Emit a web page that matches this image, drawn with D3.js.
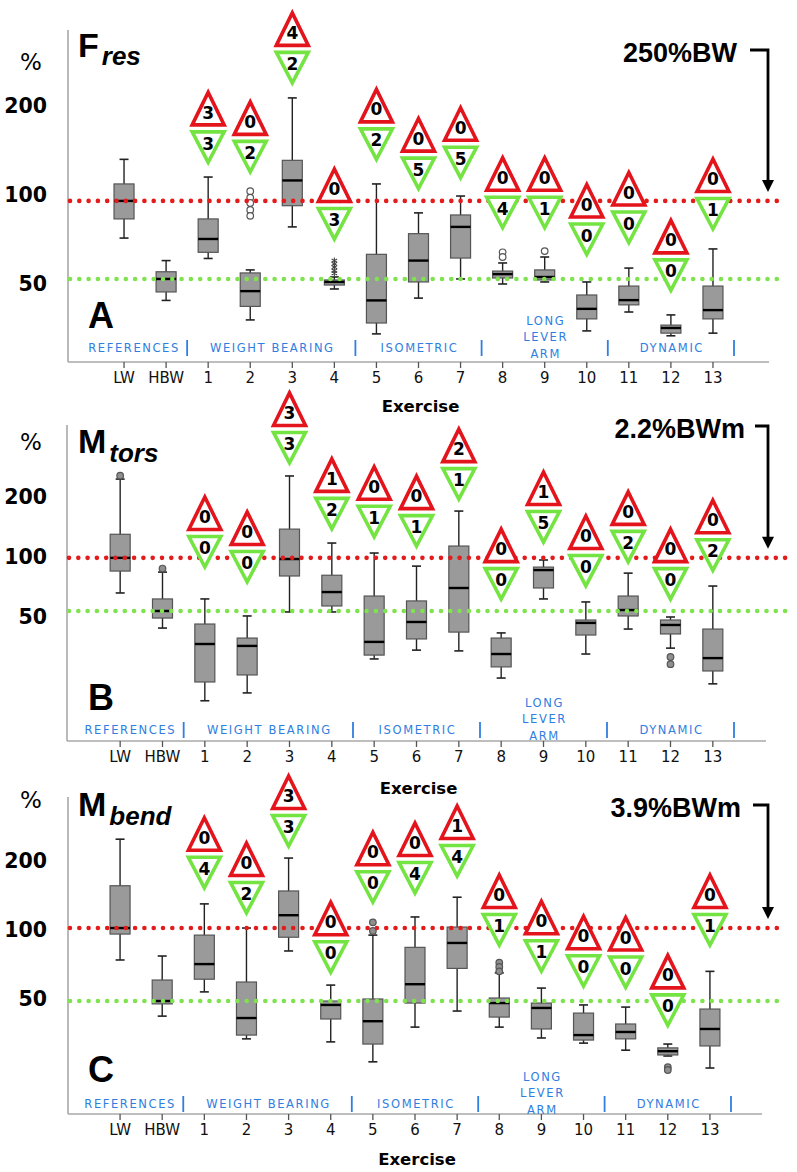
<!DOCTYPE html>
<html><head><meta charset="utf-8">
<script src="https://cdn.jsdelivr.net/npm/d3@7"></script>
<style>body{margin:0;background:#fff}svg{display:block}</style>
</head><body>
<svg id="chart" width="797" height="1172"></svg>
<script>
// ---------- data ----------
const categories = ["LW","HBW","1","2","3","4","5","6","7","8","9","10","11","12","13"];
const exercises = categories.slice(2);
const groupLines = [["REFERENCES"],["WEIGHT BEARING"],["ISOMETRIC"],["LONG","LEVER","ARM"],["DYNAMIC"]];
const groupFirst = ["LW","1","5","8","11"];
const groupLast  = ["HBW","4","7","10","13"];
const yTickValues = [50,100,200];

// Panel A: F res
const fresLow  = [71.5,44,61,37.8,78,48.1,33.9,44.8,52,50,50.8,34.7,40.2,33.4,34.1];
const fresQ1   = [83,47,64,42,92,49.6,36.9,50.8,61.2,52.4,51.6,38.1,42.5,34.1,38.1];
const fresMed  = [95.5,52,71,47.3,112,50.8,44,60,78,54,52.8,41.2,44.1,35.5,40.8];
const fresQ3   = [109,55,83,54.5,131,51.6,63,74,85.6,55.3,55.8,45.9,49.2,36.3,49.2];
const fresHigh = [132,60,115,55.8,213,52.8,109,87,99.2,58.9,61.7,50.8,56.6,39.3,65.7];
const fresOutliers = [["2",103],["2",98],["2",94],["2",89],["2",85],["8",64],["8",61.7],["9",64.6]];
const fresExtremes = [["4",60],["4",58.5],["4",57],["4",55.5],["4",54.3]];
const fresMarkerAt = [168,156,312,92.5,172,137,149,101,101,82,90,62,100];
const fresRed   = [3,0,4,0,0,0,0,0,0,0,0,0,0];
const fresGreen = [3,2,2,3,2,5,5,4,1,0,0,0,1];

// Panel B: M tors
const torsLow  = [66,44,19,20.8,53,53,30.8,34.1,33.8,24.7,61.6,32.6,43.5,34.9,23.1];
const torsQ1   = [85,49.4,23.6,25.6,80.3,56.8,32.2,38.8,42,28.1,69.9,40.6,50.6,41.1,26.8];
const torsMed  = [99,53.6,36.6,35.8,97.7,66.7,37.5,47.2,69.9,32.6,86,46.7,54.2,45.6,31.1];
const torsQ3   = [130,61.6,46.1,39.2,138,81,63.7,60.2,113.5,39.2,89,48.3,63.7,48.3,43.5];
const torsHigh = [246,84,61.6,50.6,255,117.5,104.7,90,170,41.6,96.6,59.5,83,50,71.5];
const torsOutliers = [["LW",256],["HBW",87.5],["12",31.5],["12",29]];
const torsExtremes = [];
const torsMarkerAt = [132,111,439,205,187,168,289,91,176,106,140,91,127];
const torsRed   = [0,0,3,1,0,0,2,0,1,0,0,0,0];
const torsGreen = [0,0,3,2,1,1,1,0,5,0,2,0,2];

// Panel C: M bend
const bendLow  = [74,42.1,53.7,33.5,81,32.5,26.6,37.7,44.3,37.7,33.8,32.1,29.9,28.2,25];
const bendQ1   = [96,47.6,61,34.8,93,40.9,31.8,48,68,41.7,37,33.1,33.5,28.5,31.2];
const bendMed  = [102,49,71,41.3,116,47.1,40,58,87.8,48,45.7,34.8,35.9,29.6,37];
const bendQ3   = [156,60.5,95,59.3,148,49,50,84,103,50.5,48,43.4,38.9,30.6,45.2];
const bendHigh = [249,77,130,102,206,57.5,95,114,139,65,55.8,47.1,46.1,31.8,66];
const bendOutliers = [["5",108],["5",99],["8",72],["8",69],["8",66],["12",25.2],["12",24.5]];
const bendExtremes = [];
const bendMarkerAt = [215,167,327,92,186,204,242,121,93,80,79,54,121];
const bendRed   = [0,0,3,0,0,0,1,0,0,0,0,0,0];
const bendGreen = [4,2,3,0,0,4,4,1,1,0,0,0,1];

// ---------- layout ----------
const panels = [
 {low:fresLow,q1:fresQ1,med:fresMed,q3:fresQ3,high:fresHigh,out:fresOutliers,ext:fresExtremes,outFill:"#fff",
  mk:fresMarkerAt,red:fresRed,green:fresGreen,main:"F",sub:"res",letter:"A",ann:"250%BW",
  top:30,bottom:362,axisX:68,axisEnd:769,xRange:[103,734],y100:195,y200:106,pctY:62,mainBase:57,subBase:65,
  letterBase:328,tickY:378,exY:406,groupY:347,annX:737,annY:52,arrowStart:750},
 {low:torsLow,q1:torsQ1,med:torsMed,q3:torsQ3,high:torsHigh,out:torsOutliers,ext:torsExtremes,outFill:"#8f8f8f",
  mk:torsMarkerAt,red:torsRed,green:torsGreen,main:"M",sub:"tors",letter:"B",ann:"2.2%BWm",
  top:425,bottom:741,axisX:67,axisEnd:766,xRange:[99,734],y100:557,y200:497,pctY:442,mainBase:453,subBase:462,
  letterBase:710,tickY:757,exY:788,groupY:729,annX:745,annY:428,arrowStart:755},
 {low:bendLow,q1:bendQ1,med:bendMed,q3:bendQ3,high:bendHigh,out:bendOutliers,ext:bendExtremes,outFill:"#8f8f8f",
  mk:bendMarkerAt,red:bendRed,green:bendGreen,main:"M",sub:"bend",letter:"C",ann:"3.9%BWm",
  top:797,bottom:1114,axisX:68,axisEnd:762,xRange:[99,731],y100:930,y200:861,pctY:800,mainBase:816,subBase:825,
  letterBase:1082,tickY:1130,exY:1159,groupY:1103,annX:741,annY:807,arrowStart:753}
];

const RED="#e3141c", GREEN="#74e443", DOTRED="#e31b1b", DOTGREEN="#7fe24f", BLUE="#2f7ee0";
const svg = d3.select("#chart");
const SANS = "DejaVu Sans, Verdana, sans-serif";
const COND = "DejaVu Sans Condensed, DejaVu Sans, sans-serif";
const ARIAL = "Liberation Sans, Arial, sans-serif";

panels.forEach(p => {
  const g = svg.append("g");
  const x = d3.scaleBand().domain(categories).range(p.xRange).paddingInner(0).paddingOuter(0);
  const cx = c => x(c) + x.bandwidth()/2;
  const y = d3.scaleLog().base(2).domain([100,200]).range([p.y100,p.y200]);

  // axes lines
  g.append("line").attr("x1",p.axisX).attr("x2",p.axisX).attr("y1",p.top).attr("y2",p.bottom)
    .attr("stroke","#a8a8a8").attr("stroke-width",1.6);
  g.append("line").attr("x1",p.axisX).attr("x2",p.axisEnd).attr("y1",p.bottom).attr("y2",p.bottom)
    .attr("stroke","#a8a8a8").attr("stroke-width",1.6);

  // bottom axis ticks + labels
  const xa = g.append("g").attr("transform",`translate(0,${p.bottom})`)
    .call(d3.axisBottom(x).tickSize(6).tickPadding(4));
  xa.select(".domain").remove();
  xa.selectAll(".tick line").attr("stroke","#555").attr("stroke-width",1.3);
  xa.selectAll(".tick text").attr("font-family",SANS).attr("font-size",15).attr("fill","#111")
    .attr("y",p.tickY-p.bottom).attr("dy","0.36em");

  // y axis labels
  const ya = g.append("g").attr("transform",`translate(${p.axisX},0)`)
    .call(d3.axisLeft(y).tickValues(yTickValues).tickFormat(d3.format("d")).tickSize(0).tickPadding(p.axisX-47));
  ya.select(".domain").remove();
  ya.selectAll(".tick text").attr("font-family",SANS).attr("font-weight","bold").attr("font-size",20.5).attr("fill","#000");

  // % label
  g.append("text").attr("x",31).attr("y",p.pctY).attr("dy","0.36em").attr("text-anchor","middle")
    .attr("font-family",SANS).attr("font-size",23).text("%");

  // Title
  const mt = g.append("text").attr("x",78).attr("y",p.mainBase).attr("font-family",ARIAL)
    .attr("font-weight","bold").attr("font-size",34).text(p.main);
  const mw = mt.node().getComputedTextLength();
  g.append("text").attr("x",78+mw+3).attr("y",p.subBase).attr("font-family",ARIAL)
    .attr("font-weight","bold").attr("font-style","italic").attr("font-size",26).text(p.sub);

  // panel letter
  g.append("text").attr("x",88).attr("y",p.letterBase).attr("font-family",ARIAL)
    .attr("font-weight","bold").attr("font-size",36).text(p.letter);

  // group labels & separators
  groupLines.forEach((lines,gi) => {
    const x0 = x(groupFirst[gi]), x1 = x(groupLast[gi]) + x.bandwidth();
    let mx = (x0+x1)/2; if (gi===0) mx -= 12;
    const n = lines.length;
    lines.forEach((t,li) => {
      g.append("text").attr("x",mx+1).attr("y",p.groupY + 6*(n>1?1:0) - 16.5*(n-1-li))
        .attr("dy","0.36em").attr("text-anchor","middle").attr("font-family",COND)
        .attr("font-size",12.8).attr("letter-spacing",1.6).attr("fill",BLUE).text(t);
    });
    g.append("line").attr("x1",x1).attr("x2",x1).attr("y1",p.groupY-7).attr("y2",p.groupY+9)
      .attr("stroke",BLUE).attr("stroke-width",1.8);
  });

  // boxes
  categories.forEach((c,i) => {
    const X = cx(c), bw = 20, cw = 9;
    g.append("line").attr("x1",X).attr("x2",X).attr("y1",y(p.high[i])).attr("y2",y(p.low[i]))
      .attr("stroke","#222").attr("stroke-width",1.4);
    [p.high[i],p.low[i]].forEach(v => g.append("line").attr("x1",X-cw/2).attr("x2",X+cw/2)
      .attr("y1",y(v)).attr("y2",y(v)).attr("stroke","#222").attr("stroke-width",1.6));
    g.append("rect").attr("x",X-bw/2).attr("width",bw).attr("y",y(p.q3[i]))
      .attr("height",Math.max(1,y(p.q1[i])-y(p.q3[i]))).attr("fill","#9a9a9a")
      .attr("stroke","#555").attr("stroke-width",1.2);
    g.append("line").attr("x1",X-bw/2).attr("x2",X+bw/2).attr("y1",y(p.med[i])).attr("y2",y(p.med[i]))
      .attr("stroke","#000").attr("stroke-width",2.4);
  });

  // outliers
  p.out.forEach(([c,v]) => g.append("circle").attr("cx",cx(c)).attr("cy",y(v)).attr("r",3.3)
    .attr("fill",p.outFill).attr("stroke","#555").attr("stroke-width",1.2));
  const starSym = d3.symbol().type(d3.symbolAsterisk || d3.symbolCross).size(28);
  p.ext.forEach(([c,v]) => g.append("path").attr("d",starSym())
    .attr("transform",`translate(${cx(c)},${y(v)})`).attr("fill","none").attr("stroke","#444").attr("stroke-width",1.1));

  // reference dotted lines (LW and HBW medians)
  [[p.med[0],DOTRED],[p.med[1],DOTGREEN]].forEach(([v,col]) => {
    g.append("line").attr("x1",p.axisX+2).attr("x2",786).attr("y1",y(v)).attr("y2",y(v))
      .attr("stroke",col).attr("stroke-width",4.6).attr("stroke-linecap","round")
      .attr("stroke-dasharray","0 9.3");
  });

  // markers
  exercises.forEach((c,i) => {
    const X = cx(c), J = y(p.mk[i]), hw = 16;
    g.append("path").attr("d",`M${X-hw},${J-3.5}L${X},${J-36}L${X+hw},${J-3.5}Z`)
      .attr("fill","#fff").attr("stroke",RED).attr("stroke-width",3.6).attr("stroke-linejoin","miter");
    g.append("path").attr("d",`M${X-hw},${J+3.5}L${X+hw},${J+3.5}L${X},${J+34}Z`)
      .attr("fill","#fff").attr("stroke",GREEN).attr("stroke-width",3.6).attr("stroke-linejoin","miter");
    g.append("text").attr("x",X).attr("y",J-16).attr("dy","0.36em").attr("text-anchor","middle")
      .attr("font-family",SANS).attr("font-weight","bold").attr("font-size",17).text(p.red[i]);
    g.append("text").attr("x",X).attr("y",J+15).attr("dy","0.36em").attr("text-anchor","middle")
      .attr("font-family",SANS).attr("font-weight","bold").attr("font-size",17).text(p.green[i]);
  });

  // annotation + arrow
  g.append("text").attr("x",p.annX).attr("y",p.annY).attr("dy","0.36em").attr("text-anchor","end")
    .attr("font-family",ARIAL).attr("font-weight","bold").attr("font-size",27).text(p.ann);
  const ax = 768, tip = y(p.med[0]) - 9;
  g.append("path").attr("d",`M${p.arrowStart},${p.annY-2}H${ax}V${tip-11}`)
    .attr("fill","none").attr("stroke","#000").attr("stroke-width",2.8);
  g.append("path").attr("d",`M${ax-6},${tip-12}L${ax+6},${tip-12}L${ax},${tip}Z`).attr("fill","#000");

  // Exercise label
  g.append("text").attr("x",(p.axisX+p.axisEnd)/2+2).attr("y",p.exY).attr("dy","0.36em")
    .attr("text-anchor","middle").attr("font-family",SANS).attr("font-weight","bold")
    .attr("font-size",16.5).text("Exercise");
});
</script>
</body></html>
